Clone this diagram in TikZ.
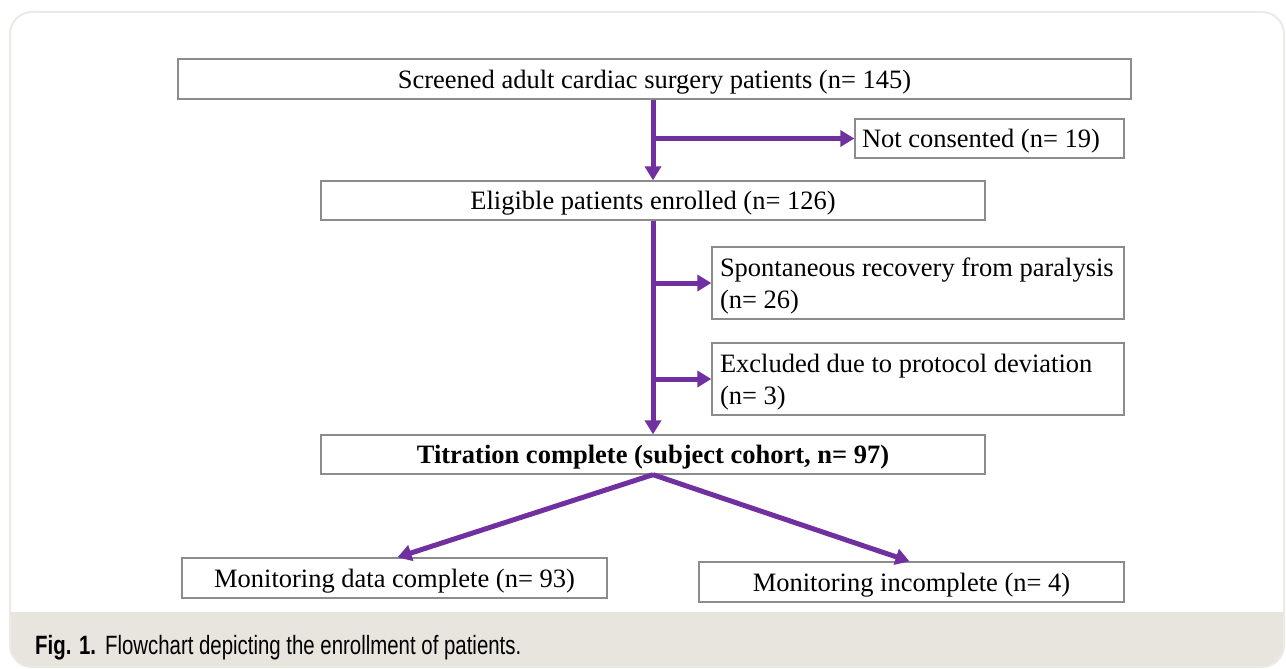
\documentclass[tikz,border=0pt]{standalone}
\usepackage{fontspec}
\setmainfont{Liberation Serif}
\newfontfamily\capfont[FakeStretch=0.77]{Liberation Sans}
\usetikzlibrary{arrows.meta}
\definecolor{flowpurple}{HTML}{7030A0}
\definecolor{frameline}{HTML}{ECEAE4}
\definecolor{capband}{HTML}{E8E5DF}
\definecolor{boxline}{HTML}{8C8C8C}
\begin{document}
\begin{tikzpicture}[x=1pt,y=-1pt,
  box/.style={draw=boxline,line width=1.3pt,rectangle,inner sep=0pt,text depth=0pt,font=\fontsize{26.5}{32}\selectfont,fill=white},
  twobox/.style={box,text depth=32pt,align=flush left,text width=396pt,minimum width=412pt,minimum height=72pt},
  arr/.style={draw=flowpurple,line width=5pt,-{Triangle[length=14pt,width=16pt]}}]
\useasboundingbox (0,0) rectangle (1286,669);
\fill[white] (0,0) rectangle (1286,669);
% frame and caption band
\begin{scope}
\clip[rounded corners=22pt] (10,12) rectangle (1284,667);
\fill[capband] (0,612) rectangle (1286,669);
\end{scope}
\draw[frameline,line width=2pt,rounded corners=22pt] (10,12) rectangle (1284,667);
\node[anchor=base west,inner sep=0pt,font=\capfont\fontsize{26.5}{30}\selectfont] (cap) at (35,654)
  {\textbf{Fig. 1.}\hspace{9pt}Flowchart depicting the enrollment of patients.};
% boxes
\node[box,minimum width=953pt,minimum height=40pt] (b1) at (654.5,79) {Screened adult cardiac surgery patients (n= 145)};
\node[box,minimum width=269pt,minimum height=39pt,align=flush left,text width=255pt] (b2) at (989.5,138.5) {Not consented (n= 19)};
\node[box,minimum width=664pt,minimum height=39pt] (b3) at (653,200.5) {Eligible patients enrolled (n= 126)};
\node[twobox] (b4) at (918,283) {Spontaneous recovery from paralysis\\(n= 26)};
\node[twobox] (b5) at (918,379) {Excluded due to protocol deviation\\(n= 3)};
\node[box,minimum width=664pt,minimum height=39pt,font=\fontsize{26.5}{32}\selectfont\bfseries] (b6) at (653,454.5) {Titration complete (subject cohort, n= 97)};
\node[box,minimum width=425pt,minimum height=40pt] (b7) at (394.5,578) {Monitoring data complete (n= 93)};
\node[box,minimum width=425pt,minimum height=40pt] (b8) at (911.5,582) {Monitoring incomplete (n= 4)};
% connectors
\coordinate (t1) at (b3.north |- b1.south);
\draw[arr] (t1) -- (b3.north);
\draw[arr] (b3.north |- b2.west) -- (b2.west);
\draw[arr] (b3.south) -- (b6.north);
\draw[arr] (b3.south |- b4.west) -- (b4.west);
\draw[arr] (b3.south |- b5.west) -- (b5.west);
\draw[arr] (b6.south) -- ([xshift=3pt]b7.north);
\draw[arr] (b6.south) -- ([xshift=-2pt]b8.north);
\end{tikzpicture}
\end{document}
